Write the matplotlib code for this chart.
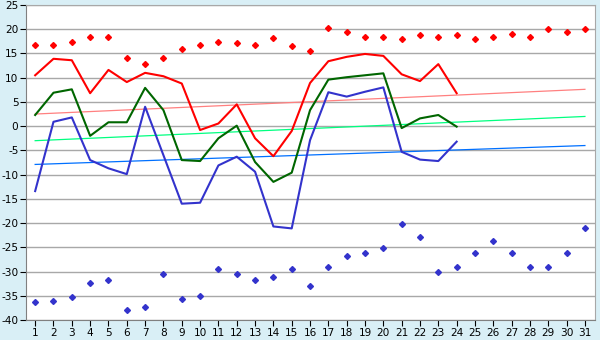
import matplotlib.pyplot as plt
import numpy as np
from matplotlib.ticker import MultipleLocator

plt.rcParams['axes.unicode_minus'] = False

days = list(range(1, 32))

# daily extremes shown as scattered markers
high_pts = [16.7, 16.7, 17.3, 18.4, 18.4, 14.0, 12.8, 14.0, 16.0, 16.7,
            17.3, 17.1, 16.7, 18.1, 16.5, 15.6, 20.2, 19.4, 18.3, 18.3,
            17.9, 18.9, 18.3, 18.9, 17.9, 18.3, 19.1, 18.3, 20.0, 19.4, 20.0]
low_pts = [-36.2, -36.0, -35.2, -32.3, -31.7, -37.9, -37.3, -30.6, -35.6, -35.0,
           -29.4, -30.6, -31.7, -31.1, -29.4, -32.9, -29.0, -26.7, -26.1, -25.1,
           -20.1, -22.8, -30.0, -29.0, -26.1, -23.8, -26.1, -29.0, -29.0, -26.1, -21.1]

# measured series (days 1-24)
line_days = list(range(1, 25))
red_line = [10.5, 13.9, 13.6, 6.8, 11.6, 9.1, 11.0, 10.3, 8.8, -0.8,
            0.55, 4.5, -2.5, -6.2, -1.0, 8.9, 13.4, 14.3, 14.9, 14.5,
            10.7, 9.3, 12.8, 6.8]
green_line = [2.3, 6.9, 7.6, -2.0, 0.8, 0.8, 7.9, 3.3, -7.0, -7.2,
              -2.5, 0.1, -7.4, -11.5, -9.6, 3.3, 9.6, 10.1, 10.5, 10.9,
              -0.4, 1.6, 2.3, -0.1]
blue_line = [-13.4, 0.9, 1.8, -7.0, -8.7, -9.9, 4.0, -6.0, -16.0, -15.8,
             -8.1, -6.3, -9.4, -20.7, -21.1, -2.9, 7.0, 6.1, 7.1, 8.0,
             -5.3, -6.9, -7.2, -3.2]

# trend lines, value at day 1 and day 31
trend_x = [1, 31]
red_trend = [2.5, 7.6]
green_trend = [-3.0, 2.0]
blue_trend = [-7.9, -4.0]

fig = plt.figure(figsize=(6, 3.4), dpi=100, facecolor='#D9EFF6')
ax = fig.add_axes([26/600, 20/340, 569/600, 315/340])
ax.set_facecolor('white')

ax.set_xlim(0.5, 31.55)
ax.set_ylim(-40, 25)
ax.yaxis.set_major_locator(MultipleLocator(5))
ax.set_xticks(days)
ax.grid(axis='y', color='#A8A8A8', linewidth=1.0)
ax.set_axisbelow(True)

for side in ['top', 'right']:
    ax.spines[side].set_color('#A8A8A8')
for side in ['left', 'bottom']:
    ax.spines[side].set_color('#808080')
ax.tick_params(axis='both', labelsize=7.6, length=4, color='black', pad=1.5)

ax.plot(trend_x, red_trend, color='#FF8080', lw=0.9)
ax.plot(trend_x, green_trend, color='#00FF80', lw=0.9)
ax.plot(trend_x, blue_trend, color='#0070FF', lw=0.9)

ax.plot(line_days, red_line, color='#FF0000', lw=1.5)
ax.plot(line_days, green_line, color='#006600', lw=1.5)
ax.plot(line_days, blue_line, color='#3333CC', lw=1.5)

ax.plot(days, high_pts, ls='none', marker='D', ms=3.0, color='#FF0000')
ax.plot(days, low_pts, ls='none', marker='D', ms=3.0, color='#3333CC')

fig.savefig('out.png', dpi=100, facecolor=fig.get_facecolor())
